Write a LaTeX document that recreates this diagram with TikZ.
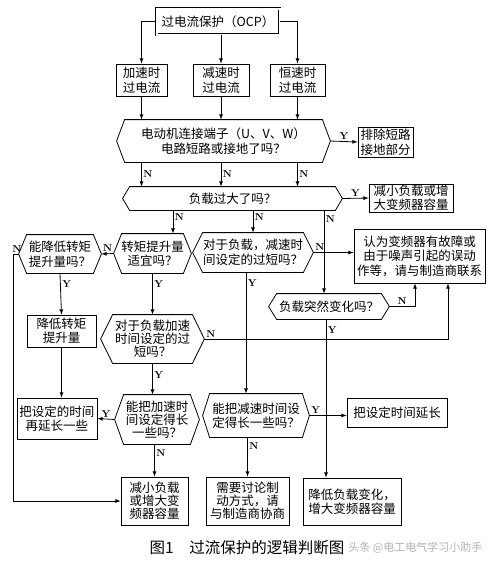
\documentclass[tikz,border=0pt]{standalone}
\usepackage{fontspec}
\newfontfamily\cjk{Noto Sans CJK SC}
\usepackage{tikz}

\begin{document}
\begin{tikzpicture}[x=1pt,y=-1pt,line width=0.8pt,
    txt/.style={font=\cjk\fontsize{12.5}{14.5}\selectfont,align=center,inner sep=0pt},
    tight/.style={font=\cjk\fontsize{12.5}{13}\selectfont},
    box/.style={txt,draw},
    hexa/.style={txt},
    arr/.style={-latex},
    lab/.style={font=\fontsize{10}{10}\selectfont\bfseries,inner sep=1.5pt}]
    \useasboundingbox (0,0) rectangle (492,566);

    % boxes and questions
    \node[box,double,double distance=2pt,minimum width=123,minimum height=26] (top) at (218,21.5) {过电流保护（OCP）};
    \node[box,minimum width=51,minimum height=32] (a1) at (141.5,80) {加速时\\过电流};
    \node[box,minimum width=56,minimum height=32] (a2) at (221,80) {减速时\\过电流};
    \node[box,minimum width=55,minimum height=32] (a3) at (297.5,80) {恒速时\\过电流};
    \node[hexa,minimum width=213,minimum height=42] (q1) at (223.5,141) {电动机连接端子（U、V、W）\\电路短路或接地了吗？};
    \node[box,minimum width=55,minimum height=30] (r1) at (385.5,142) {排除短路\\接地部分};
    \node[hexa,minimum width=219,minimum height=23] (q2) at (232.5,198.5) {负载过大了吗？};
    \node[box,minimum width=84,minimum height=28] (r2) at (411,198) {减小负载或增\\大变频器容量};
    \node[hexa,minimum width=77,minimum height=39] (q3) at (152.5,253.5) {转矩提升量\\适宜吗？};
    \node[hexa,minimum width=82,minimum height=38] (q4) at (60,254) {能降低转矩\\提升量吗？};
    \node[hexa,minimum width=120,minimum height=39] (q5) at (253,252.5) {对于负载，减速时\\间设定的过短吗？};
    \node[box,minimum width=131,minimum height=54] (r3) at (419.5,256) {认为变频器有故障或\\由于噪声引起的误动\\作等，请与制造商联系};
    \node[hexa,minimum width=120,minimum height=25] (q6) at (329,306.5) {负载突然变化吗？};
    \node[box,minimum width=69,minimum height=32] (b1) at (61.5,331) {降低转矩\\提升量};
    \node[hexa,tight,minimum width=103,minimum height=48] (q7) at (152.5,339) {对于负载加速\\时间设定的过\\短吗？};
    \node[box,minimum width=80,minimum height=41] (b2) at (57,418.5) {把设定的时间\\再延长一些};
    \node[hexa,tight,minimum width=84,minimum height=49] (q8) at (157,419.5) {能把加速时\\间设定得长\\一些吗？};
    \node[hexa,minimum width=106,minimum height=43] (q9) at (256,415.5) {能把减速时间设\\定得长一些吗？};
    \node[box,minimum width=100,minimum height=29] (b3) at (397,412.5) {把设定时间延长};
    \node[box,tight,minimum width=67,minimum height=48] (c1) at (154.5,501) {减小负载\\或增大变\\频器容量};
    \node[box,tight,minimum width=83,minimum height=48] (c2) at (247.5,501) {需要讨论制\\动方式，请\\与制造商协商};
    \node[box,minimum width=98,minimum height=47] (c3) at (352,501.5) {降低负载变化，\\增大变频器容量};

    \foreach \n/\d in {q1/8,q2/7,q3/8,q4/8,q5/10,q6/8,q7/12,q8/9,q9/7}
        \draw (\n.west) -- ([xshift=\d]\n.north west) -- ([xshift=-\d]\n.north east) -- (\n.east)
            -- ([xshift=-\d]\n.south east) -- ([xshift=\d]\n.south west) -- cycle;

    % lanes for the vertical runs
    \coordinate (l0) at (13,0);
    \coordinate (l1) at (173,0);
    \coordinate (l2) at (246,0);
    \coordinate (l3) at (324,0);
    \coordinate (l4) at (415,0);
    \coordinate (l5) at (326,0);
    \coordinate (l6) at (448,0);

    \draw[arr] (top.west) -| (a1.north);
    \draw[arr] (a2.north |- top.south) -- (a2.north);
    \draw[arr] (top.east) -| (a3.north);
    \foreach \n in {a1,a2,a3}
        \draw[arr] (\n.south) -- (\n.south |- q1.north);
    \foreach \n [count=\i] in {a1,a2,a3}
        \draw[arr] (\n.south |- q1.south) -- node[lab,right] (nq\i) {N} (\n.south |- q2.north);
    \draw[arr] (q1.east) -- node[lab,above] (y1) {Y} (r1.west);
    \draw[arr] (q2.east) -- node[lab,above] (y2) {Y} (r2.west);
    \draw[arr] (l1 |- q2.south) -- node[lab,right,pos=0.3] (n1) {N} (l1 |- q3.north);
    \draw[arr] (q5.north |- q2.south) -- node[lab,right,pos=0.3] (n2) {N} (q5.north);
    \draw[arr] (l3 |- q2.south) -- node[lab,right,pos=0.1] (n3) {N} (l3 |- q6.north);
    \draw[arr] (q3.west) -- node[lab,above] (n4) {N} (q4.east);
    \draw[arr] (q4.west) -- node[lab,above,pos=0.3] (n5) {N} (l0 |- q4.west) |- (c1.west);
    \draw[arr] (q4.south) -- node[lab,right,pos=0.26] (y3) {Y} (b1.north);
    \draw[arr] (b1.south) -- (b1.south |- b2.north);
    \draw[arr] (q3.south) -- node[lab,right,pos=0.26] (y4) {Y} (q7.north);
    \draw[arr] (q5.east) -- node[lab,above right,pos=0] (n6) {N} (q5.east -| r3.west);
    \draw[arr] (l2 |- q5.south) -- node[lab,right,pos=0.09] (y5) {Y} (l2 |- q9.north);
    \draw[arr] (q6.east) -| node[lab,above,pos=0.25] (n7) {N} (l4 |- r3.south);
    \draw[arr] (l5 |- q6.south) -- node[lab,right,pos=0.07] (y6) {Y} (l5 |- c3.north);
    \draw[arr] (q7.east) -| node[lab,above right,pos=0] (n8) {N} (l6 |- r3.south);
    \draw[arr] (q7.south) -- node[lab,right,pos=0.37] (y7) {Y} (q7.south |- q8.north);
    \draw[arr] (q8.west) -- node[lab,above] (y8) {Y} (b2.east);
    \draw[arr] (c1.north |- q8.south) -- node[lab,right,pos=0.27] (n9) {N} (c1.north);
    \draw[arr] (q9.east) -- node[lab,above right,pos=0] (y9) {Y} (q9.east -| b3.west);
    \draw[arr] (c2.north |- q9.south) -- node[lab,right,pos=0.22] (n10) {N} (c2.north);

    % caption
    \node[font=\cjk\fontsize{15.5}{16}\selectfont,anchor=west] (cap) at (146,548) {图1\quad 过流保护的逻辑判断图};
    \node[font=\cjk\fontsize{11}{11}\selectfont,text=gray!60,anchor=east] (wm) at (486,548) {头条 @电工电气学习小助手};
\end{tikzpicture}
\end{document}
